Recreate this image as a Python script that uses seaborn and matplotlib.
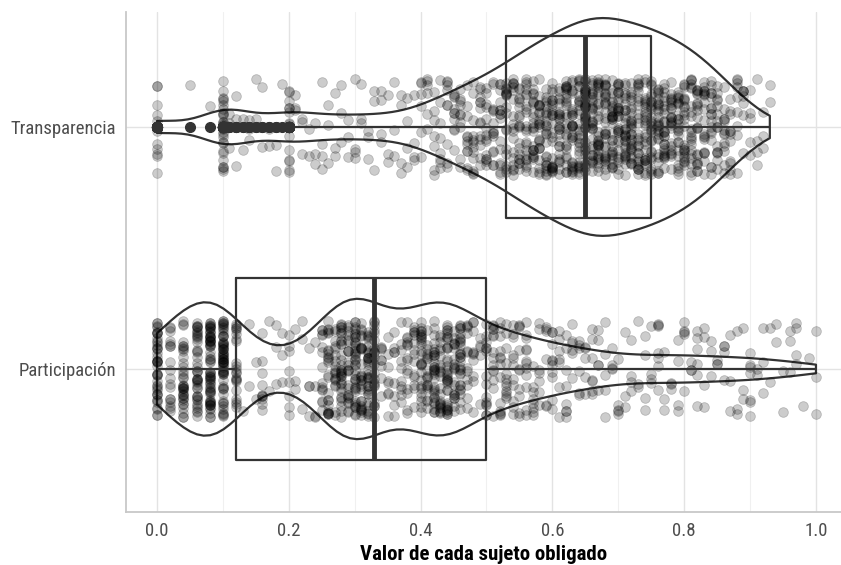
import numpy as np
import pandas as pd
import seaborn as sns
import matplotlib.pyplot as plt
from matplotlib.ticker import MultipleLocator

# categorías del eje y (de arriba hacia abajo)
categorias = ["Transparencia", "Participación"]

# valor del índice y número de sujetos obligados con ese valor
transp_valores = [0.00, 0.05, 0.08, 0.10,
                  0.11, 0.12, 0.13, 0.14, 0.15, 0.16, 0.17, 0.18, 0.19,
                  0.20, 0.21, 0.22, 0.23, 0.24, 0.25, 0.26, 0.27, 0.28, 0.29,
                  0.30, 0.31, 0.32, 0.33, 0.34, 0.35, 0.36, 0.37, 0.38, 0.39,
                  0.40, 0.41, 0.42, 0.43, 0.44, 0.45, 0.46, 0.47, 0.48, 0.49,
                  0.50, 0.51, 0.52, 0.53, 0.54, 0.55, 0.56, 0.57, 0.58, 0.59,
                  0.60, 0.61, 0.62, 0.63, 0.64, 0.65, 0.66, 0.67, 0.68, 0.69,
                  0.70, 0.71, 0.72, 0.73, 0.74, 0.75, 0.76, 0.77, 0.78, 0.79,
                  0.80, 0.81, 0.82, 0.83, 0.84, 0.85, 0.86, 0.87, 0.88, 0.89,
                  0.90, 0.91, 0.92, 0.93]
transp_conteos = [13, 1, 1, 28,
                  3, 3, 2, 3, 2, 2, 2, 2, 1,
                  15, 3, 3, 2, 3, 4, 3, 3, 3, 3,
                  4, 3, 3, 3, 4, 3, 3, 4, 4, 4,
                  6, 6, 7, 8, 9, 10, 10, 11, 12, 13,
                  14, 14, 15, 17, 18, 19, 21, 22, 23, 24,
                  24, 25, 26, 27, 29, 30, 30, 30, 30, 29,
                  29, 28, 28, 27, 26, 26, 26, 25, 24, 23,
                  22, 21, 20, 19, 17, 15, 13, 11, 9, 7,
                  5, 4, 3, 2]

partic_valores = [0.00, 0.02, 0.04, 0.06, 0.08, 0.10, 0.12,
                  0.13, 0.14, 0.15, 0.16, 0.17, 0.18, 0.19, 0.20, 0.21, 0.22, 0.23, 0.24,
                  0.25, 0.26, 0.27, 0.28, 0.29, 0.30, 0.31, 0.32, 0.33,
                  0.34, 0.35, 0.36, 0.37, 0.38, 0.39, 0.40, 0.41, 0.42, 0.43,
                  0.44, 0.45, 0.46, 0.47, 0.48, 0.49, 0.50,
                  0.51, 0.52, 0.53, 0.54, 0.55, 0.56, 0.57, 0.58, 0.59, 0.60,
                  0.61, 0.62, 0.63, 0.64, 0.65, 0.66, 0.67, 0.68, 0.69, 0.70,
                  0.71, 0.72, 0.73, 0.74, 0.75, 0.76, 0.77, 0.78, 0.79, 0.80,
                  0.81, 0.82, 0.83, 0.84, 0.85, 0.86, 0.87, 0.88, 0.89, 0.90,
                  0.91, 0.92, 0.93, 0.94, 0.95, 0.96, 0.97, 0.98, 0.99, 1.00]
partic_conteos = [42, 18, 36, 42, 64, 62, 22,
                  1, 2, 2, 10, 2, 3, 3, 8, 3, 3, 4, 4,
                  14, 24, 18, 32, 24, 36, 28, 34, 20,
                  8, 8, 8, 10, 14, 14, 26, 18, 30, 22,
                  34, 20, 28, 12, 10, 5, 14,
                  14, 13, 12, 11, 10, 12, 8, 7, 6, 10,
                  7, 8, 6, 6, 5, 7, 5, 5, 4, 5,
                  3, 4, 3, 4, 4, 7, 3, 3, 4, 5,
                  3, 6, 4, 3, 3, 4, 3, 3, 3, 7,
                  2, 3, 2, 2, 2, 3, 4, 1, 1, 3]

df = pd.DataFrame({
    "valor": np.concatenate([np.repeat(transp_valores, transp_conteos),
                             np.repeat(partic_valores, partic_conteos)]),
    "eje": ["Transparencia"] * sum(transp_conteos) + ["Participación"] * sum(partic_conteos),
})

sns.set_style("white")
plt.rcParams["font.family"] = ["Roboto Condensed", "Liberation Sans Narrow", "Roboto", "DejaVu Sans"]

linea = "#333333"
fig = plt.figure(figsize=(8.41, 5.65), dpi=100)
ax = fig.add_axes([126 / 841, 53 / 565, 715 / 841, 500 / 565])

np.random.seed(7)
sns.stripplot(data=df, x="valor", y="eje", order=categorias, jitter=0.2, size=7,
              color="black", alpha=0.2, linewidth=0.6, edgecolor="black", ax=ax, zorder=2)

# un violín por categoría: cada uno con su ancho y su suavizado
anchos = {"Transparencia": 0.9, "Participación": 0.58}
suavizado = {"Transparencia": 0.75, "Participación": 0.75}
for cat in categorias:
    sns.violinplot(data=df[df["eje"] == cat], x="valor", y="eje", order=categorias,
                   cut=0, inner=None, fill=False, color=linea, linewidth=1.6,
                   width=anchos[cat], density_norm="width", bw_adjust=suavizado[cat], ax=ax)

sns.boxplot(data=df, x="valor", y="eje", order=categorias, width=0.75, fill=False,
            color=linea, linewidth=1.6, showcaps=False, whis=1.5,
            medianprops=dict(linewidth=3.5, color=linea),
            flierprops=dict(marker="o", markersize=7, markerfacecolor=linea,
                            markeredgecolor=linea),
            ax=ax)

ax.set_xlim(-0.047, 1.038)
ax.set_ylim(1.591, -0.475)
ax.set_xticks([0.0, 0.2, 0.4, 0.6, 0.8, 1.0])
ax.set_xticklabels(["0.0", "0.2", "0.4", "0.6", "0.8", "1.0"])
ax.xaxis.set_minor_locator(MultipleLocator(0.1))
ax.grid(True, which="major", color="#e3e3e3", linewidth=1.0)
ax.grid(True, which="minor", axis="x", color="#f0f0f0", linewidth=0.8)
ax.set_axisbelow(True)
for s in ["top", "right"]:
    ax.spines[s].set_visible(False)
for s in ["left", "bottom"]:
    ax.spines[s].set_color("#c8c8c8")
    ax.spines[s].set_linewidth(1.3)
ax.tick_params(axis="both", which="major", length=4, width=1, color="#c8c8c8",
               labelsize=13.5, labelcolor="#4d4d4d", pad=3)
ax.tick_params(axis="x", which="minor", length=0)
ax.set_ylabel("")
ax.set_xlabel("Valor de cada sujeto obligado", fontsize=15, fontweight="bold",
              color="black", labelpad=4)

fig.savefig("out.png", dpi=100)
